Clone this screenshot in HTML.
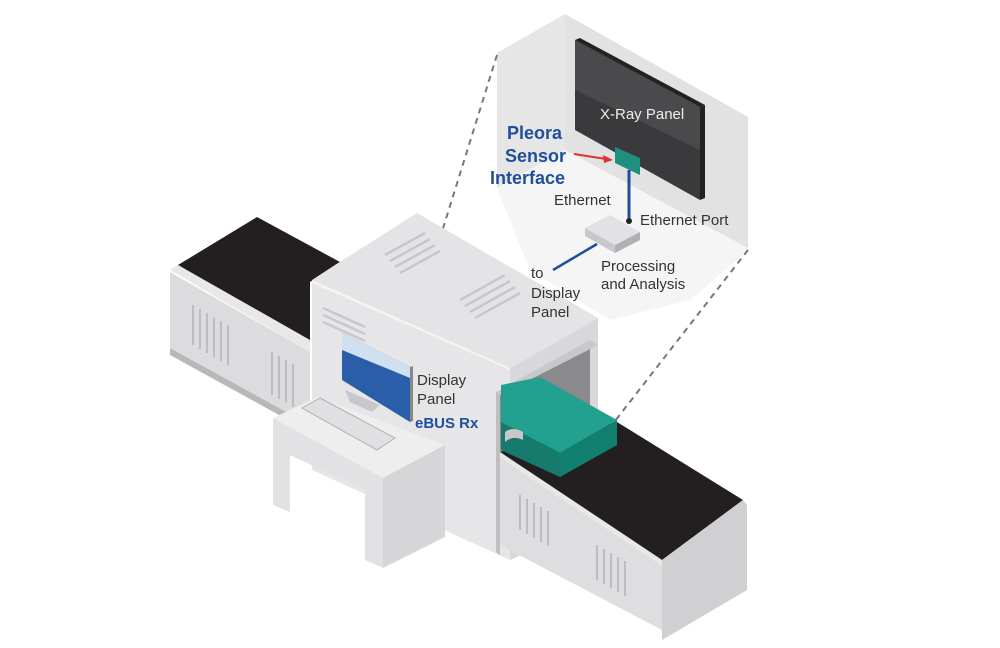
<!DOCTYPE html>
<html><head><meta charset="utf-8"><style>
html,body{margin:0;padding:0;background:#fff}
svg{display:block}
text{font-family:"Liberation Sans",sans-serif}
</style></head><body>
<svg width="1000" height="648" viewBox="0 0 1000 648" xmlns="http://www.w3.org/2000/svg">
<!-- magnified inset -->
<polygon points="497,53 565,14 748,117 748,250 690,300 560,250 497,188" fill="#f2f2f2"/>
<polygon points="497,53 565,14 565,150 497,188" fill="#e6e6e6"/>
<polygon points="565,14 748,117 748,248 565,150" fill="#e2e2e2"/>
<polygon points="497,188 565,150 748,248 690,300 610,320 530,270" fill="#f5f5f5"/>
<line x1="497" y1="55" x2="440" y2="238" stroke="#777" stroke-width="2" stroke-dasharray="6,5"/>
<line x1="748" y1="250" x2="615" y2="421" stroke="#777" stroke-width="2" stroke-dasharray="6,5"/>
<!-- X-ray panel -->
<polygon points="575,40 700,107 700,200 575,130" fill="#3a3a3c"/>
<polygon points="575,40 700,107 700,150 575,90" fill="#4a4a4c"/>
<polygon points="575,40 580,38 705,105 700,107" fill="#222"/>
<polygon points="700,107 705,105 705,198 700,200" fill="#222"/>
<text x="600" y="119" font-size="15" fill="#eee">X-Ray Panel</text>
<polygon points="615,147 640,158 640,175 615,163" fill="#1f8f80"/>
<line x1="629" y1="170" x2="629" y2="220" stroke="#1f4e9a" stroke-width="3"/>
<circle cx="629" cy="221" r="3" fill="#222"/>
<!-- processing box -->
<polygon points="585,228 610,215 640,232 615,245" fill="#e2e2e4"/>
<polygon points="585,228 615,245 615,253 585,236" fill="#c8c8cc"/>
<polygon points="615,245 640,232 640,240 615,253" fill="#b0b0b6"/>
<line x1="597" y1="244" x2="553" y2="270" stroke="#1f4e9a" stroke-width="2.5"/>
<!-- red arrow -->
<line x1="574" y1="154" x2="606" y2="159" stroke="#e03030" stroke-width="2"/>
<polygon points="613,160 603,155 604,163" fill="#e03030"/>
<!-- left conveyor -->
<polygon points="178,265 257,217 340,262 310,282 310,345" fill="#231f20"/>
<polygon points="170,270 178,265 310,340 310,352" fill="#e8e8e8"/>
<polygon points="170,272 310,352 310,425 170,348" fill="#dcdcde"/>
<polygon points="170,348 310,425 310,432 170,355" fill="#b8b8bb"/>
<g stroke="#bdbdc0" stroke-width="2">
<line x1="193" y1="305" x2="193" y2="345"/><line x1="200" y1="309" x2="200" y2="349"/><line x1="207" y1="313" x2="207" y2="353"/><line x1="214" y1="317" x2="214" y2="357"/><line x1="221" y1="321" x2="221" y2="361"/><line x1="228" y1="325" x2="228" y2="365"/>
<line x1="272" y1="352" x2="272" y2="395"/><line x1="279" y1="356" x2="279" y2="399"/><line x1="286" y1="360" x2="286" y2="403"/><line x1="293" y1="364" x2="293" y2="407"/>
</g>
<!-- main box -->
<polygon points="312,280 335,265 417,213 598,318 510,368" fill="#e4e4e6"/>
<polygon points="312,280 510,368 510,372 312,286" fill="#f4f4f4"/>
<polygon points="312,283 510,370 510,560 312,470" fill="#e6e6e8"/>
<polygon points="510,368 598,318 598,520 510,560" fill="#d8d8da"/>
<polygon points="500,395 590,345 590,450 500,500" fill="#8a8a8c"/>
<polygon points="496,392 500,395 500,555 496,552" fill="#bfbfc2"/>
<polygon points="496,392 590,340 598,345 500,395" fill="#c8c8ca"/>
<g stroke="#c8c8cb" stroke-width="2.5">
<line x1="385" y1="255" x2="425" y2="233"/><line x1="390" y1="261" x2="430" y2="239"/><line x1="395" y1="267" x2="435" y2="245"/><line x1="400" y1="273" x2="440" y2="251"/>
<line x1="460" y1="300" x2="505" y2="275"/><line x1="465" y1="306" x2="510" y2="281"/><line x1="470" y1="312" x2="515" y2="287"/><line x1="475" y1="318" x2="520" y2="293"/>
<line x1="323" y1="308" x2="365" y2="327"/><line x1="323" y1="315" x2="365" y2="334"/><line x1="323" y1="322" x2="365" y2="341"/>
</g>
<!-- right conveyor -->
<polygon points="500,452 617,422 743,500 662,560" fill="#231f20"/>
<polygon points="500,452 662,560 662,568 500,458" fill="#e8e8e8"/>
<polygon points="500,458 662,566 662,630 500,545" fill="#dedee0"/>
<polygon points="662,560 743,500 747,505 747,590 662,640" fill="#d0d0d3"/>
<g stroke="#bdbdc0" stroke-width="2">
<line x1="520" y1="495" x2="520" y2="530"/><line x1="527" y1="499" x2="527" y2="534"/><line x1="534" y1="503" x2="534" y2="538"/><line x1="541" y1="507" x2="541" y2="542"/><line x1="548" y1="511" x2="548" y2="546"/>
<line x1="597" y1="545" x2="597" y2="580"/><line x1="604" y1="549" x2="604" y2="584"/><line x1="611" y1="553" x2="611" y2="588"/><line x1="618" y1="557" x2="618" y2="592"/><line x1="625" y1="561" x2="625" y2="596"/>
</g>
<!-- suitcase -->
<polygon points="501,385 540,377 617,420 560,453 501,422" fill="#22a090"/>
<polygon points="501,422 560,453 560,477 501,450" fill="#167a6c"/>
<polygon points="560,453 617,420 617,445 560,477" fill="#128070"/>
<path d="M505,432 q8,-6 18,0 l0,8 q-10,-5 -18,2z" fill="#c8c8c8"/>
<!-- desk -->
<polygon points="273,418 317,397 445,445 383,478" fill="#eeeeef"/>
<polygon points="273,418 383,478 383,568 365,560 365,490 290,455 290,512 273,505" fill="#e2e2e4"/>
<polygon points="383,478 445,445 445,537 383,568" fill="#d6d6d8"/>
<!-- monitor -->
<polygon points="345,390 380,405 372,412 350,402" fill="#c8c8cc"/>
<polygon points="342,333 410,367 410,422 342,380" fill="#2a5ea8"/>
<polygon points="342,333 410,367 410,378 342,350" fill="#cfe0f0"/>
<polygon points="410,367 413,366 413,421 410,422" fill="#888"/>
<!-- keyboard -->
<polygon points="302,408 320,398 395,438 377,450" fill="#e0e0e3" stroke="#b0b0b4"/>
<!-- labels -->
<g font-size="18" font-weight="bold" fill="#1f4e9a" text-anchor="end">
<text x="562" y="139">Pleora</text><text x="566" y="162">Sensor</text><text x="565" y="184">Interface</text></g>
<g font-size="15" fill="#333">
<text x="554" y="205">Ethernet</text><text x="640" y="225">Ethernet Port</text>
<text x="601" y="271">Processing</text><text x="601" y="289">and Analysis</text>
<text x="531" y="278">to</text><text x="531" y="298">Display</text><text x="531" y="317">Panel</text>
<text x="417" y="385">Display</text><text x="417" y="404">Panel</text>
</g>
<text x="415" y="428" font-size="15" font-weight="bold" fill="#1f4e9a">eBUS Rx</text>
</svg>
</body></html>
